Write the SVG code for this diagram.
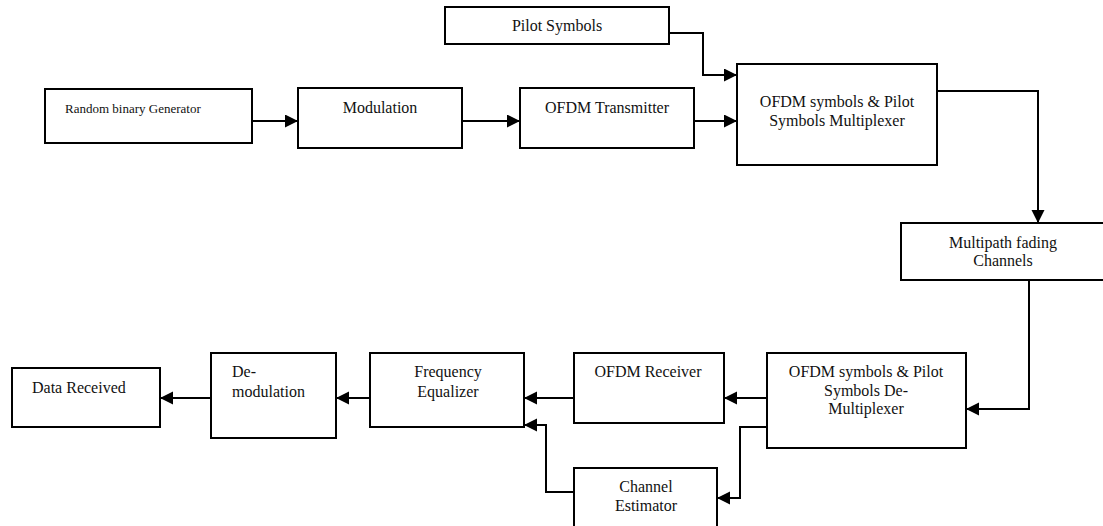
<svg xmlns="http://www.w3.org/2000/svg" width="1103" height="526" viewBox="0 0 1103 526">
<style>
.box{fill:#fff;stroke:#000;stroke-width:2}
.t{font-family:"Liberation Serif","Times New Roman",serif;font-size:16px;fill:#111;text-anchor:middle}
.ts{font-family:"Liberation Serif","Times New Roman",serif;font-size:13px;fill:#111}
.tl{font-family:"Liberation Serif","Times New Roman",serif;font-size:16px;fill:#111}
.c{fill:none;stroke:#000;stroke-width:2;marker-end:url(#ah)}
</style>
<defs>
<marker id="ah" markerUnits="userSpaceOnUse" markerWidth="14" markerHeight="14" refX="13" refY="6.5" orient="auto">
<path d="M0,0 L13,6.5 L0,13 z" fill="#000"/>
</marker>
</defs>
<rect width="1103" height="526" fill="#fff"/>
<g id="connectors">
<path class="c" d="M252,121 H298"/>
<path class="c" d="M462,121 H520"/>
<path class="c" d="M694,121 H737"/>
<path class="c" d="M669,33 H703 V75 H737"/>
<path class="c" d="M937,91 H1038 V223"/>
<path class="c" d="M1029,280 V409 H966"/>
<path class="c" d="M767,398 H724"/>
<path class="c" d="M574,398 H524"/>
<path class="c" d="M767,427 H740 V498 H717"/>
<path class="c" d="M574,492 H546 V425 H524"/>
<path class="c" d="M370,398 H336"/>
<path class="c" d="M211,398 H160"/>
</g>
<g id="random">
<rect class="box" x="45" y="89" width="207" height="54"/>
<text class="ts" x="65" y="113">Random binary Generator</text>
</g>
<g id="modulation">
<rect class="box" x="298" y="88" width="164" height="60"/>
<text class="t" x="380" y="113">Modulation</text>
</g>
<g id="ofdm-tx">
<rect class="box" x="520" y="88" width="174" height="60"/>
<text class="t" x="607" y="113">OFDM Transmitter</text>
</g>
<g id="pilot">
<rect class="box" x="445" y="7" width="224" height="37"/>
<text class="t" x="557" y="31">Pilot Symbols</text>
</g>
<g id="mux">
<rect class="box" x="737" y="64" width="200" height="101"/>
<text class="t" x="837" y="107">OFDM symbols &amp; Pilot</text>
<text class="t" x="837" y="126">Symbols Multiplexer</text>
</g>
<g id="multipath">
<rect class="box" x="901" y="223" width="212" height="57"/>
<text class="t" x="1003" y="248">Multipath fading</text>
<text class="t" x="1003" y="266">Channels</text>
</g>
<g id="demux">
<rect class="box" x="767" y="353" width="199" height="95"/>
<text class="t" x="866" y="377">OFDM symbols &amp; Pilot</text>
<text class="t" x="866" y="396">Symbols De-</text>
<text class="t" x="866" y="414">Multiplexer</text>
</g>
<g id="ofdm-rx">
<rect class="box" x="574" y="353" width="150" height="70"/>
<text class="t" x="648" y="377">OFDM Receiver</text>
</g>
<g id="channel-estimator">
<rect class="box" x="574" y="468" width="143" height="70"/>
<text class="t" x="646" y="492">Channel</text>
<text class="t" x="646" y="511">Estimator</text>
</g>
<g id="equalizer">
<rect class="box" x="370" y="353" width="154" height="74"/>
<text class="t" x="448" y="377">Frequency</text>
<text class="t" x="448" y="397">Equalizer</text>
</g>
<g id="demodulation">
<rect class="box" x="211" y="353" width="125" height="85"/>
<text class="tl" x="232" y="377">De-</text>
<text class="tl" x="232" y="397">modulation</text>
</g>
<g id="data-received">
<rect class="box" x="12" y="368" width="148" height="59"/>
<text class="tl" x="32" y="393">Data Received</text>
</g>
</svg>
